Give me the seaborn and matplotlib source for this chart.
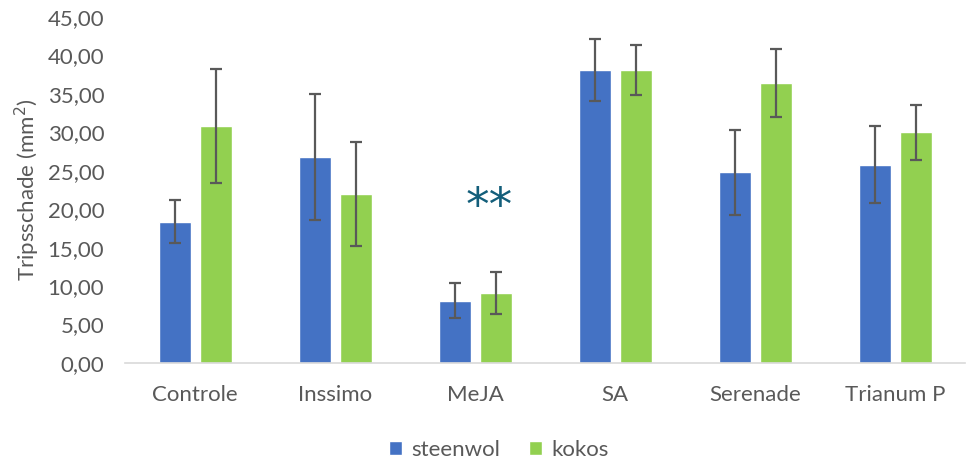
import matplotlib
matplotlib.use("Agg")
import matplotlib.pyplot as plt
import seaborn as sns
import pandas as pd
from matplotlib.ticker import FuncFormatter

# Data
behandelingen = ["Controle", "Inssimo", "MeJA", "SA", "Serenade", "Trianum P"]
steenwol = [18.4, 26.8, 8.1, 38.1, 24.8, 25.8]
kokos = [30.8, 22.0, 9.1, 38.1, 36.4, 30.0]
steenwol_err = [2.8, 8.2, 2.25, 4.05, 5.5, 5.0]
kokos_err = [7.4, 6.8, 2.75, 3.25, 4.45, 3.6]
series = ["steenwol", "kokos"]
colors = ["#4472C4", "#92D050"]

df = pd.DataFrame({
    "Behandeling": behandelingen * 2,
    "Substraat": ["steenwol"] * 6 + ["kokos"] * 6,
    "Tripsschade": steenwol + kokos,
})

sns.set_style("white")
plt.rcParams["font.family"] = ["Lato", "DejaVu Sans"]

fig = plt.figure(figsize=(9.7, 4.61), dpi=100)
ax = fig.add_axes([0.129, 0.2126, 0.866, 0.7504])

sns.barplot(data=df, x="Behandeling", y="Tripsschade", hue="Substraat",
            hue_order=series, palette=colors, width=0.586, gap=0.22,
            saturation=1, errorbar=None, ax=ax)

# Error bars on the bar centres
for cont, errs in zip(ax.containers, [steenwol_err, kokos_err]):
    xs = [p.get_x() + p.get_width() / 2 for p in cont.patches]
    ys = [p.get_height() for p in cont.patches]
    ax.errorbar(xs, ys, yerr=errs, fmt="none", ecolor="#595959",
                elinewidth=1.6, capsize=4.3, capthick=1.6, zorder=3)

# Significance marker above MeJA
ax.text(2.1, 20.2, "**", ha="center", va="center", fontsize=34,
        color="#135E7A", family="DejaVu Sans")

ax.set_ylim(0, 45)
ax.set_xlim(-0.5, 5.5)
ax.set_yticks(range(0, 50, 5))
ax.yaxis.set_major_formatter(FuncFormatter(lambda v, p: f"{v:.2f}".replace(".", ",")))
ax.tick_params(axis="both", colors="#595959", length=0)
ax.tick_params(axis="x", labelsize=16, pad=16)
ax.tick_params(axis="y", labelsize=16, pad=15)
ax.set_xlabel("")
ax.set_ylabel("Tripsschade (mm$^2$)", fontsize=16, color="#595959", labelpad=4)

for s in ["left", "right", "top"]:
    ax.spines[s].set_visible(False)
ax.spines["bottom"].set_color("#D9D9D9")
ax.spines["bottom"].set_linewidth(1.2)

ax.legend(loc="upper center", bbox_to_anchor=(0.445, -0.165), ncol=2, frameon=False,
          fontsize=16, labelcolor="#595959", handlelength=0.6, handleheight=0.6,
          handletextpad=0.4, columnspacing=1.3)

plt.savefig("out.png", dpi=100)
